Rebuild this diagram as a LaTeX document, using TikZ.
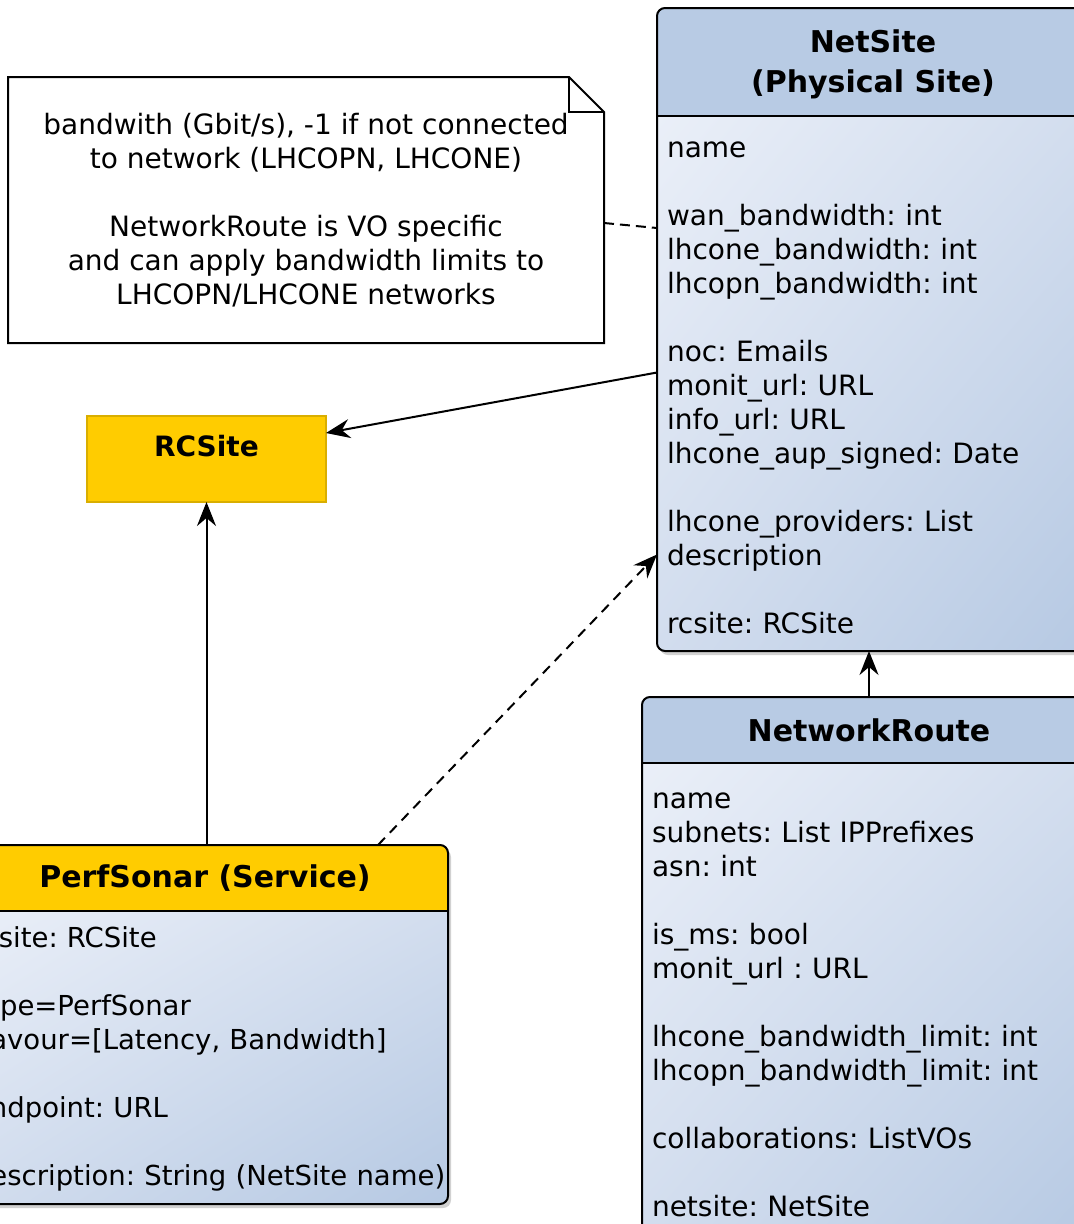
\documentclass[tikz,border=0pt]{standalone}
\usepackage{fontspec}
\setmainfont{DejaVu Sans}
\frenchspacing
\usetikzlibrary{positioning,arrows.meta,backgrounds,shadings}

\definecolor{hdrblue}{HTML}{B8CBE4}
\definecolor{bodylight}{HTML}{EAEFF8}
\definecolor{bodymid}{HTML}{D2DDEE}
\definecolor{bodydark}{HTML}{B6C9E3}
\definecolor{rcyellow}{HTML}{FFCC00}
\definecolor{rcedge}{HTML}{D9AE00}

\begin{document}
\begin{tikzpicture}[x=1pt,y=-1pt,
every node/.style={font=\fontsize{28}{34}\selectfont,inner sep=0pt,outer sep=0pt},
head/.style={align=center,font=\fontsize{30}{40}\selectfont\bfseries},
attrs/.style={align=left,inner xsep=10pt,anchor=north west},
edge/.style={line width=2pt},
conn/.style={edge,-{Stealth[length=24pt,width=19pt,inset=8pt]}},
dashconn/.style={conn,dash pattern=on 10pt off 7pt},
bodyshade/.style={upper left=bodylight,lower right=bodydark,upper right=bodymid,lower left=bodymid}
]
\useasboundingbox (0,0) rectangle (1074,1224);
\clip (0,0) rectangle (1074,1224);

\node[align=center] (note) at (306,210) {bandwith (Gbit/s), -1 if not connected\\to network (LHCOPN, LHCONE)\\[34pt]NetworkRoute is VO specific\\and can apply bandwidth limits to\\LHCOPN/LHCONE networks};
\path (8,77) coordinate (noteNW) (604,343) coordinate (noteSE);

\node[attrs,text width=412pt,minimum height=535pt] (netsiteAttrs) at (657,116) {\strut name\\[34pt]wan\_bandwidth: int\\lhcone\_bandwidth: int\\lhcopn\_bandwidth: int\\[34pt]noc: Emails\\monit\_url: URL\\info\_url: URL\\lhcone\_aup\_signed: Date\\[34pt]lhcone\_providers: List\\description\\[34pt]rcsite: RCSite};
\node[head,minimum width=432pt,minimum height=108pt,above=0pt of netsiteAttrs] (netsite) {\strut NetSite\\(Physical Site)};

\node[attrs,text width=434pt,minimum height=476pt] (routeAttrs) at (642,763) {\strut name\\subnets: List IPPrefixes\\asn: int\\[34pt]is\_ms: bool\\monit\_url : URL\\[34pt]lhcone\_bandwidth\_limit: int\\lhcopn\_bandwidth\_limit: int\\[34pt]collaborations: ListVOs\\[34pt]netsite: NetSite};
\node[head,minimum width=454pt,minimum height=66pt,above=0pt of routeAttrs] (route) {NetworkRoute};

\node[attrs,inner xsep=11pt,text width=464pt,minimum height=293pt,font=\fontsize{27.5}{34}\selectfont] (perfsonarAttrs) at (-38,911) {\strut rcsite: RCSite\\[34pt]type=PerfSonar\\flavour=[Latency, Bandwidth]\\[34pt]endpoint: URL\\[34pt]\mbox{description: String (NetSite name)}};
\node[head,minimum width=486pt,minimum height=66pt,above=0pt of perfsonarAttrs] (perfsonar) {PerfSonar (Service)};

\node[font=\fontsize{28}{34}\selectfont\bfseries,fill=rcyellow,draw=rcedge,line width=2pt,minimum width=239pt,text height=40pt,text depth=46pt] (rcsite) at (206.5,459) {RCSite};

\begin{scope}[on background layer]
\draw[edge,fill=white] (noteNW) -- (569,77) -- (604,112) -- (noteSE) -| cycle;
\draw[edge] (569,77) |- (604,112);
\foreach \h/\b/\c in {netsite/netsiteAttrs/hdrblue,route/routeAttrs/hdrblue,perfsonar/perfsonarAttrs/rcyellow}{
  \fill[black,opacity=.18,rounded corners=8pt,transform canvas={shift={(3pt,-4pt)}}] (\h.north west) rectangle (\b.south east);
  \begin{scope}
    \clip[rounded corners=8pt] (\h.north west) rectangle (\b.south east);
    \fill[\c] (\h.north west) rectangle (\h.south east);
    \shade[bodyshade] (\b.north west) rectangle (\b.south east);
  \end{scope}
}
\end{scope}

\foreach \h/\b in {netsite/netsiteAttrs,route/routeAttrs,perfsonar/perfsonarAttrs}{
  \draw[edge,rounded corners=8pt] (\h.north west) rectangle (\b.south east);
  \draw[edge] (\h.south west) -- (\h.south east);
}

\draw[edge,dash pattern=on 10pt off 6pt] ([yshift=-13pt]note.east -| noteSE) -- ([yshift=-112pt]netsiteAttrs.north west);
\draw[conn] ([yshift=11pt]netsiteAttrs.west) -- ([yshift=26pt]rcsite.east);
\draw[conn] (perfsonar.north -| rcsite.south) -- (rcsite.south);
\draw[dashconn] ([xshift=173pt]perfsonar.north) -- ([yshift=-171pt]netsiteAttrs.west);
\draw[conn] (route.north) -- (route.north |- netsiteAttrs.south);
\end{tikzpicture}
\end{document}
